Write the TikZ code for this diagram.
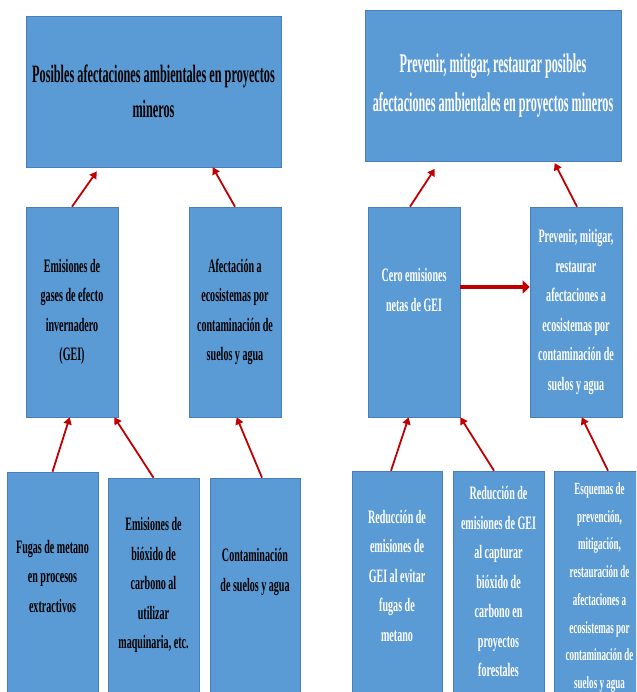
\documentclass[tikz,border=0pt]{standalone}
\usepackage{fontspec}
\setmainfont{Liberation Serif}[FakeStretch=0.53]
\newfontfamily\titlefontL{Liberation Serif}[FakeStretch=0.49]
\newfontfamily\titlefontR{Liberation Serif}[FakeStretch=0.45]
\usetikzlibrary{arrows.meta}

\definecolor{boxblue}{HTML}{5B9BD5}
\definecolor{boxedge}{HTML}{4A7EBB}
\definecolor{arrowred}{HTML}{C00000}

\begin{document}
\begin{tikzpicture}[x=1pt, y=-1pt,
        box/.style={draw=boxedge, line width=0.6pt, fill=boxblue, inner sep=0pt, align=center},
        dark/.style={text=black},
        light/.style={text=white},
        titleL/.style={font=\titlefontL\bfseries\fontsize{25}{35}\selectfont},
        titleR/.style={font=\titlefontR\bfseries\fontsize{27}{38.5}\selectfont},
        midtext/.style={font=\bfseries\fontsize{19}{29.5}\selectfont},
        lowtext/.style={font=\bfseries\fontsize{17}{27.7}\selectfont},
        arr/.style={draw=arrowred, line width=1.8pt, -{Triangle[length=7pt, width=8pt]}},
        bigarr/.style={draw=arrowred, line width=4pt, -{Triangle[length=7pt, width=13pt]}}
    ]

    \useasboundingbox (0,0) rectangle (636,692);
    \clip (0,0) rectangle (636,692);

    % Left tree: effects
    \node[box, dark, titleL, minimum width=255pt, minimum height=151pt] (topL) at (153.5,91.5)
        {Posibles afectaciones ambientales en proyectos\\mineros};
    \node[box, dark, midtext, minimum width=92pt, minimum height=210pt] (gei) at (72,312)
        {Emisiones de\\gases de efecto\\invernadero\\(GEI)};
    \node[box, dark, midtext, minimum width=92pt, minimum height=210pt] (afec) at (235,312)
        {Afectación a\\ecosistemas por\\contaminación de\\suelos y agua};
    \node[box, dark, midtext, minimum width=91pt, minimum height=220pt, text depth=12pt] (fugas) at (52.5,582)
        {Fugas de metano\\en procesos\\extractivos};
    \node[box, dark, midtext, minimum width=91pt, minimum height=214pt] (biox) at (153.5,585)
        {Emisiones de\\bióxido de\\carbono al\\utilizar\\maquinaria, etc.};
    \node[box, dark, midtext, minimum width=90pt, minimum height=214pt, text depth=30pt] (cont) at (255,585)
        {Contaminación\\de suelos y agua};

    % Right tree: responses
    \node[box, light, titleR, minimum width=256pt, minimum height=151pt] (topR) at (493,85.5)
        {Prevenir, mitigar, restaurar posibles\\afectaciones ambientales en proyectos mineros};
    \node[box, light, midtext, minimum width=92pt, minimum height=210pt, text depth=44pt] (cero) at (414,312)
        {Cero emisiones\\netas de GEI};
    \node[box, light, midtext, minimum width=92pt, minimum height=210pt] (prev) at (576,312)
        {Prevenir, mitigar,\\restaurar\\afectaciones a\\ecosistemas por\\contaminación de\\suelos y agua};
    \node[box, light, midtext, minimum width=90pt, minimum height=221pt, text depth=12pt] (red1) at (397,581.5)
        {Reducción de\\emisiones de\\GEI al evitar\\fugas de\\metano};
    \node[box, light, midtext, minimum width=91pt, minimum height=221pt] (red2) at (498.5,581.5)
        {Reducción de\\emisiones de GEI\\al capturar\\bióxido de\\carbono en\\proyectos\\forestales};
    \node[box, light, lowtext, minimum width=91pt, minimum height=233pt] (esq) at (599.5,587.5)
        {Esquemas de\\prevención,\\mitigación,\\restauración de\\afectaciones a\\ecosistemas por\\contaminación de\\suelos y agua};

    % Arrows up the left tree
    \draw[arr, shorten >=5pt] (gei.north) -- ([xshift=74pt]topL.south west);
    \draw[arr] (afec.north) -- ([xshift=187pt]topL.south west);
    \draw[arr] (fugas.north) -- ([xshift=44pt]gei.south west);
    \draw[arr] (biox.north) -- ([xshift=-4pt]gei.south east);
    \draw[arr] ([xshift=7pt]cont.north) -- ([xshift=48pt]afec.south west);

    % Arrows up the right tree
    \draw[arr, shorten >=9pt] ([xshift=-4pt]cero.north) -- ([xshift=75pt]topR.south west);
    \draw[arr, shorten >=2pt] ([xshift=1pt]prev.north) -- ([xshift=189pt]topR.south west);
    \draw[arr] ([xshift=-6pt]red1.north) -- ([xshift=41pt]cero.south west);
    \draw[arr] ([xshift=-4.5pt]red2.north) -- (cero.south east);
    \draw[arr] ([xshift=8.5pt]esq.north) -- ([xshift=52pt]prev.south west);
    \draw[bigarr] ([yshift=25pt]cero.east) -- ([yshift=25pt]prev.west);
\end{tikzpicture}
\end{document}
